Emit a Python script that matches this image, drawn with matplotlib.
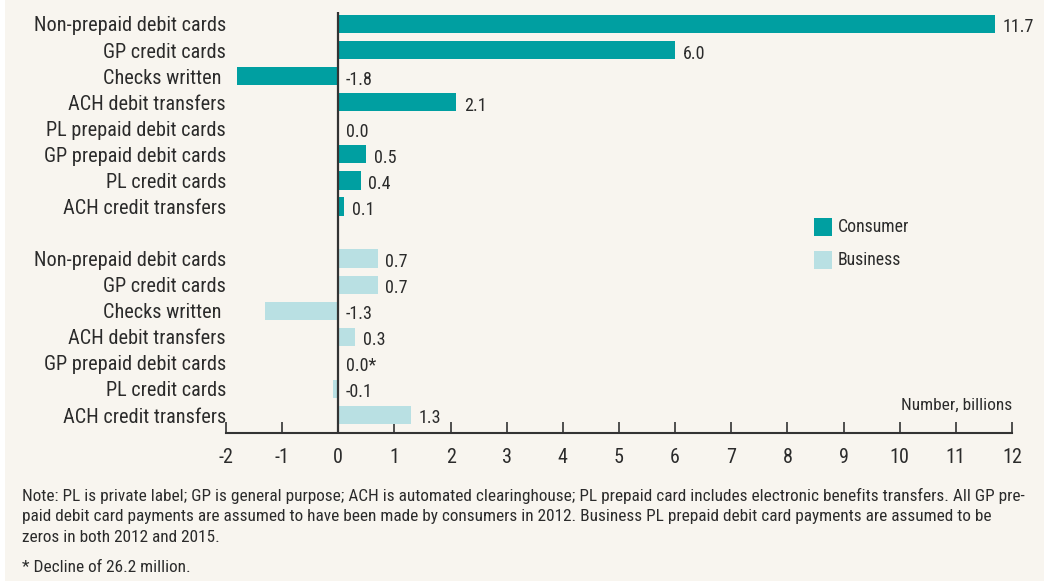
import matplotlib
matplotlib.use("Agg")
import matplotlib.pyplot as plt
from matplotlib.patches import Rectangle

plt.rcParams['font.family'] = ['Roboto Condensed', 'Archivo Narrow', 'Roboto', 'DejaVu Sans']

consumer_cats = ["Non-prepaid debit cards", "GP credit cards", "Checks written ",
                 "ACH debit transfers", "PL prepaid debit cards", "GP prepaid debit cards",
                 "PL credit cards", "ACH credit transfers"]
consumer_vals = [11.7, 6.0, -1.8, 2.1, 0.0, 0.5, 0.4, 0.1]
consumer_labels = ["11.7", "6.0", "-1.8", "2.1", "0.0", "0.5", "0.4", "0.1"]

business_cats = ["Non-prepaid debit cards", "GP credit cards", "Checks written ",
                 "ACH debit transfers", "GP prepaid debit cards", "PL credit cards",
                 "ACH credit transfers"]
business_vals = [0.7, 0.7, -1.3, 0.3, 0.0, -0.1, 1.3]
business_labels = ["0.7", "0.7", "-1.3", "0.3", "0.0*", "-0.1", "1.3"]

x_ticks = list(range(-2, 13))

BG = "#f8f5ef"
TEAL = "#009fa1"
LIGHT = "#b9e0e3"
TXT = "#2b2b2b"

fig = plt.figure(figsize=(10.44, 5.85), dpi=100)
fig.patch.set_facecolor("white")
fig.patches.append(Rectangle((5/1044, 4/585), 1 - 5/1044, 1 - 4/585,
                             transform=fig.transFigure, facecolor=BG,
                             edgecolor="none", zorder=-10))

ax = fig.add_axes([226/1044, 1 - 433/585, (1012 - 226)/1044, (433 - 12)/585])
ax.set_facecolor("none")

n_c = len(consumer_vals)
pos_c = list(range(n_c))
pos_b = [n_c + 1 + i for i in range(len(business_vals))]

ax.barh(pos_c, consumer_vals, height=0.7, color=TEAL, zorder=2)
ax.barh(pos_b, business_vals, height=0.7, color=LIGHT, zorder=2)

def annotate(positions, vals, labels):
    for p, v, lab in zip(positions, vals, labels):
        xv = max(v, 0)
        ax.annotate(lab, (xv, p), xytext=(5.5, -2.5), textcoords="offset points",
                    ha="left", va="center", fontsize=13, color=TXT)

annotate(pos_c, consumer_vals, consumer_labels)
annotate(pos_b, business_vals, business_labels)

ax.set_xlim(-2, 12)
ax.set_ylim(15.69, -0.46)
ax.axvline(0, color="#333333", lw=1.6, zorder=3)

ax.set_yticks(pos_c + pos_b)
ax.set_yticklabels(consumer_cats + business_cats, fontsize=14.6, color=TXT)
ax.tick_params(axis="y", length=0, pad=0)

ax.set_xticks(x_ticks)
ax.set_xticklabels([str(t) for t in x_ticks], fontsize=14.5, color=TXT)
ax.tick_params(axis="x", direction="in", length=8, width=1.2, color="#333333", pad=11)

for s in ["top", "right", "left"]:
    ax.spines[s].set_visible(False)
ax.spines["bottom"].set_color("#333333")
ax.spines["bottom"].set_linewidth(1.5)

fig.text(1012/1044, 1 - 405/585, "Number, billions", ha="right", va="center",
         fontsize=12.5, color=TXT)

# Legend
for i, (lab, col) in enumerate([("Consumer", TEAL), ("Business", LIGHT)]):
    yc = 227 + i * 33
    fig.patches.append(Rectangle((814/1044, 1 - (yc + 9)/585), 18/1044, 18/585,
                                 transform=fig.transFigure, facecolor=col,
                                 edgecolor="none"))
    fig.text(838/1044, 1 - yc/585, lab, ha="left", va="center", fontsize=12.8, color=TXT)

note_lines = [
    "Note: PL is private label; GP is general purpose; ACH is automated clearinghouse; PL prepaid card includes electronic benefits transfers. All GP pre-",
    "paid debit card payments are assumed to have been made by consumers in 2012. Business PL prepaid debit card payments are assumed to be",
    "zeros in both 2012 and 2015.",
]
for i, line in enumerate(note_lines):
    fig.text(22/1044, 1 - (496 + i * 21)/585, line, ha="left", va="center",
             fontsize=12.4, color=TXT)
fig.text(22/1044, 1 - 568/585, "* Decline of 26.2 million.", ha="left", va="center",
         fontsize=12.4, color=TXT)

fig.savefig("out.png", dpi=100, facecolor=fig.get_facecolor())
